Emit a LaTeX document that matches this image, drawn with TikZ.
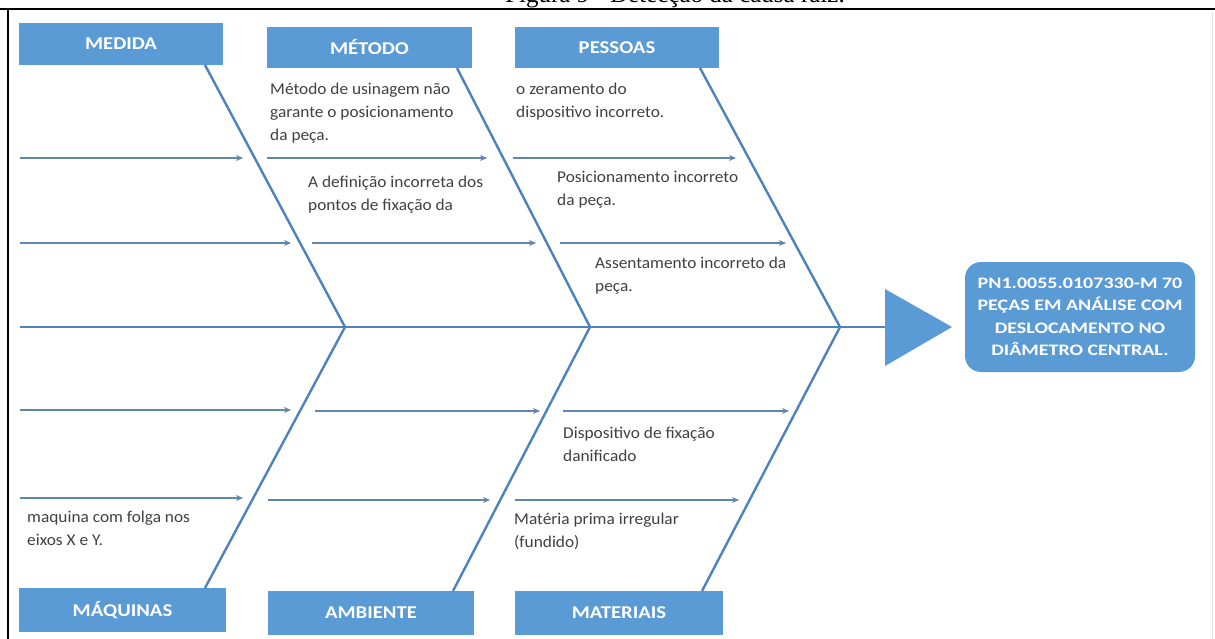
\documentclass[tikz,border=0pt]{standalone}
\usepackage{fontspec}
\setmainfont{Carlito}
\newfontfamily\capfont{Liberation Serif}
\newfontfamily\notefont[FakeStretch=1.05]{Carlito}
\newfontfamily\labfont[FakeStretch=1.15]{Carlito}
\newfontfamily\resfont[FakeStretch=1.25]{Carlito}
\usetikzlibrary{arrows.meta}
\definecolor{boxblue}{HTML}{5B9BD5}
\definecolor{bonecol}{HTML}{4F81BD}
\definecolor{arrcol}{HTML}{6185AD}
\definecolor{txtcol}{HTML}{404040}
\begin{document}
\begin{tikzpicture}[x=1pt,y=-1pt,
  cat/.style={fill=boxblue,text=white,font=\labfont\bfseries\fontsize{18}{20}\selectfont,inner sep=0pt},
  bone/.style={draw=bonecol,line width=2.4pt},
  cause/.style={draw=arrcol,line width=1.8pt,-{Stealth[length=7pt,width=6pt]}},
  note/.style={text=txtcol,font=\notefont\fontsize{16.5}{23}\selectfont,align=left,anchor=north west,inner sep=0pt}]
\useasboundingbox (0,0) rectangle (1215,639);
% caption (cut off at top)
\node[anchor=base,font=\capfont\fontsize{25}{28}\selectfont] (cap) at (675,3) {Figura 9 - Detecção da causa raiz.};
% frame
\draw[black,line width=2pt] (0,9.5) -- (1215,9.5);
\draw[black,line width=2pt] (7.5,9.5) -- (7.5,639);
\draw[black!12,line width=1pt] (1212,12) -- (1212,639);
% category boxes
\node[cat,minimum width=204pt,minimum height=42pt] (medida) at (121,44) {MEDIDA};
\node[cat,minimum width=205pt,minimum height=41pt] (metodo) at (369.5,47.5) {MÉTODO};
\node[cat,minimum width=204pt,minimum height=41pt] (pessoas) at (617,47.5) {PESSOAS};
\node[cat,minimum width=207pt,minimum height=44pt] (maquinas) at (122.5,610) {MÁQUINAS};
\node[cat,minimum width=206pt,minimum height=44pt] (ambiente) at (371,613) {AMBIENTE};
\node[cat,minimum width=208pt,minimum height=44pt] (materiais) at (619,613) {MATERIAIS};
% result
\node[fill=boxblue,rounded corners=16pt,minimum width=230pt,minimum height=110pt,text=white,
  font=\resfont\bfseries\fontsize{16}{22.5}\selectfont,align=center,inner sep=0pt] (res) at (1080,317)
  {PN1.0055.0107330-M 70\\PEÇAS EM ANÁLISE COM\\DESLOCAMENTO NO\\DIÂMETRO CENTRAL.};
% head triangle
\coordinate (hs) at (885,327);
\fill[boxblue] (885,289) -- (952,327) -- (885,366) -- cycle;
% spine
\coordinate (sl) at (20,327);
\coordinate (j1) at (345,327);
\coordinate (j2) at (590,327);
\coordinate (j3) at (840,327);
\draw[bone] (sl) -- (hs);
% bones
\coordinate (t1) at (205,65);
\coordinate (t2) at (457,68);
\coordinate (t3) at (700,68);
\coordinate (b1) at (205,588);
\coordinate (b2) at (453,591);
\coordinate (b3) at (702,591);
\draw[bone,line join=miter] (t1) -- (j1) -- (b1);
\draw[bone,line join=miter] (t2) -- (j2) -- (b2);
\draw[bone,line join=miter] (t3) -- (j3) -- (b3);
% cause arrows
\draw[cause] (20,158) -- (243,158);
\draw[cause] (267,158) -- (487,158);
\draw[cause] (513,158) -- (736,158);
\draw[cause] (20,243) -- (291,243);
\draw[cause] (312,243) -- (536,243);
\draw[cause] (560,243) -- (786,243);
\draw[cause] (20,410) -- (291,410);
\draw[cause] (315,411) -- (540,411);
\draw[cause] (563,411) -- (789,411);
\draw[cause] (20,498) -- (243,498);
\draw[cause] (268,500) -- (490,500);
\draw[cause] (515,500) -- (739,500);
% notes
\node[note] (n1) at (270,83) {Método de usinagem não\\garante o posicionamento\\da peça.};
\node[note] (n2) at (308,176) {A definição incorreta dos\\pontos de fixação da};
\node[note] (n3) at (516,83) {o zeramento do\\dispositivo incorreto.};
\node[note] (n4) at (557,171) {Posicionamento incorreto\\da peça.};
\node[note] (n5) at (595,257) {Assentamento incorreto da\\peça.};
\node[note] (n6) at (563,427) {Dispositivo de fixação\\danificado};
\node[note] (n7) at (514,513) {Matéria prima irregular\\(fundido)};
\node[note] (n8) at (27,511) {maquina com folga nos\\eixos X e Y.};
\end{tikzpicture}
\end{document}
